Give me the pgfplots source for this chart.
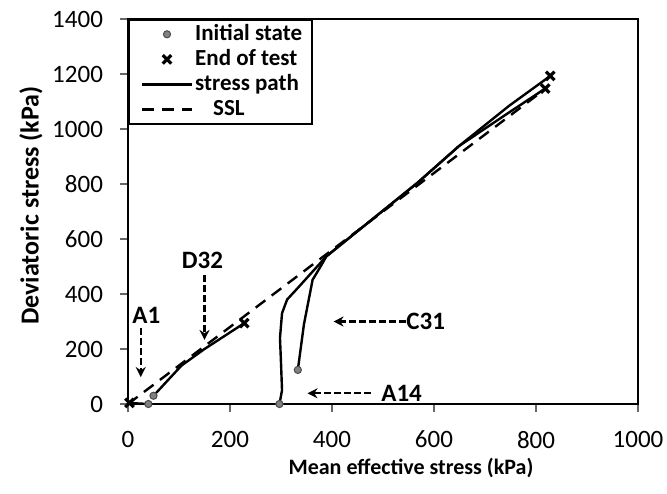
\documentclass[border=0pt]{standalone}
\usepackage{pgfplots}
\pgfplotsset{compat=1.18}
\usepackage{fontspec}
\setmainfont{Carlito}
\usetikzlibrary{arrows.meta}
\definecolor{markgray}{RGB}{128,128,128}
\begin{document}
\begin{tikzpicture}
\useasboundingbox (-64pt,-44.5pt) rectangle (269.5pt,202pt);
\begin{axis}[
  scale only axis,
  width=255pt, height=192.5pt,
  xmin=0, xmax=1000, ymin=0, ymax=1400,
  xtick distance=200, ytick distance=200,
  tick align=outside,
  xtick pos=bottom, ytick pos=left,
  major tick length=4pt,
  every tick/.style={black!60, line width=0.6pt},
  axis line style={black, line width=0.9pt},
  /pgf/number format/assume math mode=true,
  /pgf/number format/1000 sep={},
  ticklabel style={font=\fontsize{12.5}{14}\selectfont},
  xticklabel style={yshift=-6pt},
  yticklabel style={xshift=-5pt},
  xlabel={\textbf{Mean effective stress (kPa)}},
  ylabel={\textbf{Deviatoric stress (kPa)}},
  xlabel style={font=\fontsize{11}{13}\selectfont, yshift=2pt, xshift=14pt},
  ylabel style={font=\fontsize{13}{15}\selectfont, yshift=-2pt, xshift=3pt},
  mylegimg/.style={legend image code/.code={\path (0pt,0pt); \draw[mark repeat=2,mark phase=2,##1] plot coordinates {(2pt,0pt) (14.5pt,0pt) (27pt,0pt)};}},
  mylegimg,
  legend cell align=left,
  legend style={at={(0,1)}, anchor=north west, draw=black, line width=0.8pt,
    font=\bfseries\fontsize{11.5}{12}\selectfont, inner xsep=4pt, inner ysep=1pt,
    row sep=0pt,
    nodes={inner xsep=1pt, inner ysep=1pt, text height=8.3pt, text depth=2.2pt}},
  clip=false,
]
\addlegendimage{only marks, mylegimg, mark=*, mark size=1.8pt, mark options={fill=markgray, draw=black!70, line width=0.5pt}}
\addlegendentry{Initial state}
\addlegendimage{only marks, mylegimg, mark=x, mark size=3pt, mark options={line width=1.6pt, black}}
\addlegendentry{End of test}
\addlegendimage{black, line width=1.2pt}
\addlegendentry{stress path}
\addlegendimage{black, line width=1.2pt, dash pattern=on 6pt off 4pt}
\addlegendentry{\hspace{9pt}SSL}

% SSL
\addplot[forget plot, black, line width=1.2pt, dash pattern=on 6pt off 4pt] coordinates {(0,0) (820,1148)};

% A1
\addplot[forget plot, black, line width=1.2pt] coordinates {(40,0) (20,2) (3,4)};
% D32
\addplot[forget plot, black, line width=1.2pt] coordinates {(50,30) (60,50) (105,140) (150,200) (228,294)};
% A14
\addplot[forget plot, black, line width=1.2pt] coordinates {(297,0) (302,50) (300,150) (298,240) (302,330) (306,350) (312,380) (330,416) (389,537) (568,805) (649,938) (747,1060) (818,1147)};
% C31
\addplot[forget plot, black, line width=1.2pt] coordinates {(333,124) (345,290) (362,452) (376,495) (389,537) (568,805) (649,938) (747,1084) (828,1193)};

% initial states
\addplot[forget plot, only marks, mark=*, mark size=1.8pt, mark options={fill=markgray, draw=black!70, line width=0.5pt}] coordinates {(40,0) (50,30) (297,0) (333,124)};
% end of test
\addplot[forget plot, only marks, mark=x, mark size=3pt, mark options={line width=1.6pt, black}] coordinates {(3,4) (228,294) (818,1147) (828,1193)};

% annotations
\tikzset{annarrow/.style={black, line width=1.1pt, dash pattern=on 3.5pt off 1.5pt, -{Stealth[length=5pt,width=5pt]}}}
\draw[annarrow] (axis cs:25,277) -- (axis cs:25,98);
\node[font=\bfseries\fontsize{12.5}{14}\selectfont] at (axis cs:36,321) {A1};
\draw[annarrow] (axis cs:150,470) -- (axis cs:150,233);
\node[font=\bfseries\fontsize{12.5}{14}\selectfont] at (axis cs:146,521) {D32};
\draw[annarrow] (axis cs:545,300) -- (axis cs:403,300);
\node[font=\bfseries\fontsize{12.5}{14}\selectfont, anchor=west, inner sep=0pt] at (axis cs:545,300) {C31};
\draw[annarrow] (axis cs:476,39) -- (axis cs:352,39);
\node[font=\bfseries\fontsize{12.5}{14}\selectfont, anchor=west, inner sep=0pt] at (axis cs:496,39) {A14};
\end{axis}
\end{tikzpicture}
\end{document}
